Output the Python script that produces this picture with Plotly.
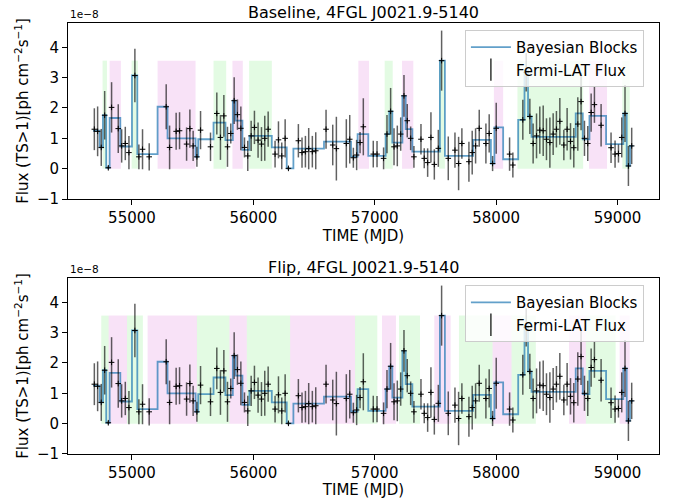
import plotly.graph_objects as go

# ---------------- data (flux in units of 1e-8 ph cm^-2 s^-1) ----------------
mjd = [54690, 54717, 54747, 54775, 54805, 54832, 54887, 54915, 54945, 54975,
       55024, 55057, 55087, 55142, 55282, 55310, 55364, 55392, 55450, 55477,
       55504, 55535, 55565, 55647, 55699, 55729, 55757, 55787, 55814, 55842,
       55869, 55897, 55927, 55954, 55982, 56009, 56039, 56067, 56094, 56122,
       56179, 56207, 56234, 56262, 56289, 56371, 56401, 56429, 56456, 56486,
       56514, 56599, 56654, 56684, 56766, 56794, 56824, 56851, 56879, 56906,
       56988, 57019, 57073, 57101, 57131, 57159, 57186, 57214, 57241, 57268,
       57296, 57323, 57381, 57408, 57436, 57463, 57491, 57524, 57551, 57606,
       57661, 57691, 57718, 57776, 57803, 57831, 57861, 57916, 57943, 57971,
       58001, 58111, 58138, 58220, 58248, 58278, 58305, 58333, 58360, 58388,
       58415, 58443, 58470, 58497, 58525, 58558, 58585, 58613, 58640, 58673,
       58700, 58728, 58755, 58783, 58810, 58865, 58947, 58980, 59008, 59035,
       59062, 59090, 59117]
flux = [1.30, 1.23, 0.70, 1.76, 0.03, 2.02, 1.32, 0.75, 0.83, 0.53,
        3.07, 0.39, 0.64, 0.39, 2.04, 0.70, 1.23, 1.25, 0.81, 1.32,
        0.75, 0.39, 1.27, 0.72, 1.82, 1.03, 1.74, 0.72, 1.16, 2.24,
        1.78, 1.33, 0.70, 0.42, 1.08, 1.36, 0.94, 0.81, 1.00, 1.30,
        0.48, 0.95, 0.42, 1.00, 0.01, 0.92, 0.53, 0.56, 0.66, 0.56,
        0.59, 1.30, 0.78, 0.66, 0.83, 0.97, 0.36, 0.45, 0.86, 1.38,
        0.48, 0.48, 0.34, 1.14, 1.89, 0.72, 0.75, 1.14, 2.40, 1.58,
        1.00, 0.39, 0.97, 0.34, 0.20, 1.03, 0.14, 0.67, 3.56, 0.34,
        0.61, 0.17, 0.83, 0.23, 0.53, 0.75, 1.33, 0.83, 1.16, 0.17,
        1.33, 0.48, 0.12, 1.61, 3.17, 1.72, 0.83, 1.08, 1.27, 1.25,
        0.97, 0.86, 1.14, 1.30, 1.56, 0.78, 1.30, 0.90, 0.69, 1.47,
        2.21, 1.00, 0.83, 1.85, 2.11, 1.43, 0.69, 0.48, 0.50, 1.03,
        1.82, 0.09, 0.75]
flux_err = [0.69, 0.82, 0.61, 0.80, 0.05, 0.83, 0.80, 0.55, 0.55, 0.55,
            0.88, 0.41, 0.66, 0.45, 0.74, 0.72, 0.61, 0.61, 0.55, 0.63,
            0.50, 0.33, 0.63, 0.47, 0.69, 0.74, 0.69, 0.66, 0.33, 0.77,
            0.50, 0.72, 0.33, 0.50, 0.50, 0.55, 0.58, 0.56, 0.74, 0.58,
            0.44, 0.61, 0.44, 0.63, 0.05, 0.55, 0.50, 0.52, 0.68, 0.52,
            0.61, 0.64, 0.67, 1.05, 0.80, 0.80, 0.33, 0.50, 0.35, 0.94,
            0.44, 0.43, 0.36, 0.63, 0.77, 0.61, 0.67, 0.55, 0.69, 0.55,
            0.39, 0.36, 0.50, 0.33, 0.47, 0.83, 0.50, 0.61, 0.99, 0.72,
            0.58, 0.88, 0.50, 0.66, 0.72, 0.58, 0.61, 0.66, 0.63, 0.25,
            0.84, 0.55, 0.41, 0.66, 0.63, 0.58, 0.66, 0.74, 0.78, 0.83,
            0.69, 0.83, 0.69, 0.60, 0.77, 0.50, 0.70, 0.60, 0.65, 0.88,
            0.94, 0.58, 0.58, 0.63, 0.60, 0.70, 0.50, 0.45, 0.30, 0.66,
            0.94, 0.66, 0.60]

# Bayesian blocks: edges (N+1) and block levels (N)
block_edges = [54679, 54734, 54761, 54788, 54816, 54904, 55000, 55044, 55211,
               55293, 55524, 55546, 55672, 55770, 55831, 55853, 55910, 55968,
               56152, 56275, 56330, 56582, 56805, 56859, 56947, 57090, 57120,
               57145, 57228, 57255, 57310, 57537, 57578, 57810, 57957, 57986,
               58058, 58182, 58234, 58263, 58292, 58656, 58714, 58769, 58906,
               59048, 59076, 59103, 59131]
block_flux = [1.25, 0.70, 1.76, 0.03, 1.67, 0.73, 3.07, 0.48, 2.04,
              1.00, 0.39, 0.97, 1.52, 0.94, 2.24, 1.58, 0.62, 1.08,
              0.70, 0.01, 0.66, 0.89, 0.40, 1.14, 0.42, 1.14, 1.89,
              0.86, 2.40, 1.30, 0.56, 3.56, 0.42, 0.95, 0.17, 1.36,
              0.31, 1.61, 3.23, 1.72, 1.05, 1.82, 0.97, 1.74, 0.81,
              1.82, 0.09, 0.75]

# Shaded intervals (MJD)
base_green_start = [54758, 54997, 55672, 55965, 57082, 57530, 58176, 59040]
base_green_end = [54794, 55049, 55776, 56152, 57148, 57578, 58717, 59101]
base_pink_start = [54816, 55211, 55828, 56865, 57225, 57982, 58766]
base_pink_end = [54909, 55524, 55913, 56953, 57318, 58058, 58914]

flip_green_start = [54747, 54959, 55535, 55946, 56838, 57200, 57694, 58127, 58739]
flip_green_end = [54808, 55090, 55803, 56303, 57021, 57373, 57971, 58327, 58985]
flip_pink_start = [54808, 55129, 55803, 56303, 57060, 57491, 57971, 58601, 59018]
flip_pink_end = [54959, 55535, 55946, 56838, 57175, 57625, 58127, 58739, 59101]

titles = ["Baseline, 4FGL J0021.9-5140", "Flip, 4FGL J0021.9-5140"]
x_ticks = [55000, 56000, 57000, 58000, 59000]
x_tick_labels = ["55000", "56000", "57000", "58000", "59000"]
y_ticks = [-1, 0, 1, 2, 3, 4]
y_tick_labels = ["−1", "0", "1", "2", "3", "4"]

# ---------------- styling ----------------
FONT = "DejaVu Sans"
GREEN = "rgba(144,238,144,0.25)"
PINK = "rgba(218,112,214,0.2)"
BLOCK_COLOR = "rgba(31,119,180,0.7)"
ERR_COLOR = "rgba(0,0,0,0.62)"

shade_top = max(block_flux)
step_x = block_edges
step_y = block_flux + [block_flux[-1]]

fig = go.Figure()

panels = [
    ("x", "y", "legend", base_green_start, base_green_end, base_pink_start, base_pink_end),
    ("x2", "y2", "legend2", flip_green_start, flip_green_end, flip_pink_start, flip_pink_end),
]

for xa, ya, lg, gs, ge, ps, pe in panels:
    for a, b in zip(gs, ge):
        fig.add_shape(type="rect", xref=xa, yref=ya, x0=a, x1=b, y0=0, y1=shade_top,
                      fillcolor=GREEN, line=dict(width=0), layer="below")
    for a, b in zip(ps, pe):
        fig.add_shape(type="rect", xref=xa, yref=ya, x0=a, x1=b, y0=0, y1=shade_top,
                      fillcolor=PINK, line=dict(width=0), layer="below")
    fig.add_trace(go.Scatter(
        x=step_x, y=step_y, mode="lines", line=dict(color=BLOCK_COLOR, width=1.8, shape="hv"),
        name="Bayesian Blocks", xaxis=xa, yaxis=ya, legend=lg))
    fig.add_trace(go.Scatter(
        x=mjd, y=flux, mode="markers",
        marker=dict(symbol="cross-thin-open", size=4, color="black", line=dict(color="black", width=1)),
        error_y=dict(type="data", array=flux_err, color=ERR_COLOR, thickness=1.5, width=0),
        showlegend=False, xaxis=xa, yaxis=ya))
    # legend entry for the flux points
    fig.add_trace(go.Scatter(
        x=[None], y=[None], mode="markers", name="Fermi-LAT Flux",
        marker=dict(symbol="line-ns-open", size=16, color="black", line=dict(color="black", width=1.2)),
        xaxis=xa, yaxis=ya, legend=lg))

axis_common = dict(
    showgrid=False, zeroline=False, showline=True, mirror=True, linecolor="black",
    linewidth=1, ticks="outside", ticklen=5, tickwidth=1, tickcolor="black",
    tickfont=dict(family=FONT, size=15, color="black"), automargin=False,
)
x_common = dict(range=[54473, 59342], tickvals=x_ticks, ticktext=x_tick_labels,
                title=dict(text="TIME (MJD)", font=dict(family=FONT, size=15), standoff=2))
y_common = dict(range=[-1, 4.8], tickvals=y_ticks, ticktext=y_tick_labels,
                title=dict(text="Flux (TS>1)[ph cm<sup>−2</sup>s<sup>−1</sup>]",
                           font=dict(family=FONT, size=15), standoff=4))

top_dom = [0.5916, 1.0]
bot_dom = [0.0, 0.4084]

fig.update_layout(
    width=673, height=499,
    margin=dict(l=68, r=14, t=23, b=45),
    paper_bgcolor="white", plot_bgcolor="white",
    font=dict(family=FONT, color="black"),
    xaxis=dict(domain=[0, 1], anchor="y", **x_common, **axis_common),
    yaxis=dict(domain=top_dom, anchor="x", **y_common, **axis_common),
    xaxis2=dict(domain=[0, 1], anchor="y2", **x_common, **axis_common),
    yaxis2=dict(domain=bot_dom, anchor="x2", **y_common, **axis_common),
    legend=dict(x=0.6716, y=0.984, xanchor="left", yanchor="top",
                bgcolor="rgba(255,255,255,0.8)", bordercolor="#cccccc", borderwidth=1,
                font=dict(family=FONT, size=15), itemwidth=40),
    legend2=dict(x=0.6716, y=0.392, xanchor="left", yanchor="top",
                 bgcolor="rgba(255,255,255,0.8)", bordercolor="#cccccc", borderwidth=1,
                 font=dict(family=FONT, size=15), itemwidth=40),
    showlegend=True,
)

# panel titles and offset labels
for dom, title in zip([top_dom, bot_dom], titles):
    fig.add_annotation(text=title, xref="paper", yref="paper", x=0.5, y=dom[1],
                       xanchor="center", yanchor="bottom", yshift=-1, showarrow=False,
                       font=dict(family=FONT, size=16, color="black"))
    fig.add_annotation(text="1e−8", xref="paper", yref="paper", x=0, y=dom[1],
                       xanchor="left", yanchor="bottom", yshift=1, showarrow=False,
                       font=dict(family=FONT, size=10.5, color="black"))

# remove the browser's default page margin so the figure fills the window exactly
fig.write_html("out.html",
               config={"displayModeBar": False},
               post_script="document.body.style.margin='0';document.body.style.overflow='hidden';")
